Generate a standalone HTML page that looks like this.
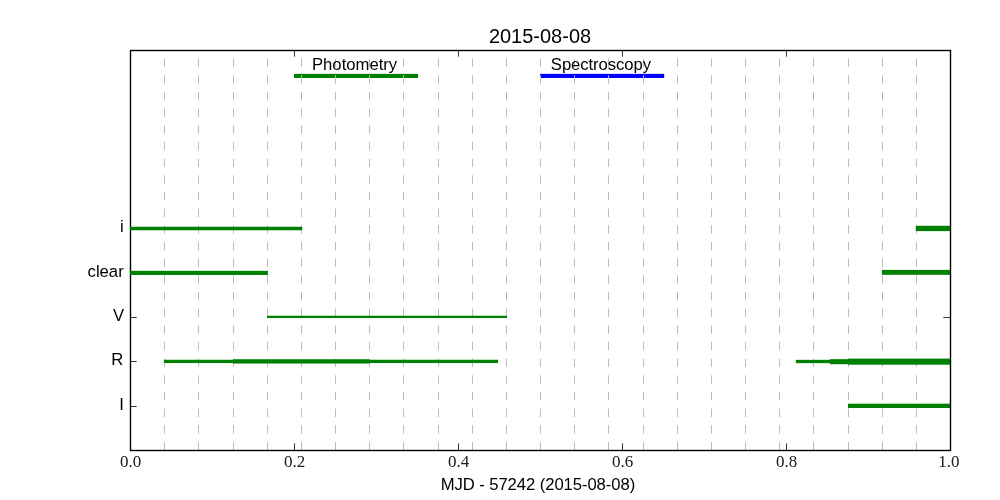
<!DOCTYPE html>
<html><head><meta charset="utf-8"><title>2015-08-08</title>
<style>html,body{margin:0;padding:0;background:#fff;}svg{display:block;}text{font-family:"Liberation Sans",sans-serif;fill:#000;}.s{font-family:"Liberation Serif",serif;fill:#202020;}</style></head><body>
<svg width="1000" height="500" viewBox="0 0 1000 500">
<rect x="0" y="0" width="1000" height="500" fill="#ffffff"/>
<g id="topbars">
<rect x="294" y="73.85" width="124.1" height="4.15" fill="#008000"/>
<rect x="540" y="73.85" width="124.2" height="4.15" fill="#0000ff"/>
</g>
<g id="grid" fill="#bcbcbc">
<rect x="164" y="441.97" width="1" height="8.33"/>
<rect x="164" y="425.30" width="1" height="8.33"/>
<rect x="164" y="408.63" width="1" height="8.33"/>
<rect x="164" y="391.97" width="1" height="8.33"/>
<rect x="164" y="375.30" width="1" height="8.33"/>
<rect x="164" y="358.63" width="1" height="8.33"/>
<rect x="164" y="341.97" width="1" height="8.33"/>
<rect x="164" y="325.30" width="1" height="8.33"/>
<rect x="164" y="308.63" width="1" height="8.33"/>
<rect x="164" y="291.97" width="1" height="8.33"/>
<rect x="164" y="275.30" width="1" height="8.33"/>
<rect x="164" y="258.63" width="1" height="8.33"/>
<rect x="164" y="241.97" width="1" height="8.33"/>
<rect x="164" y="225.30" width="1" height="8.33"/>
<rect x="164" y="208.63" width="1" height="8.33"/>
<rect x="164" y="191.97" width="1" height="8.33"/>
<rect x="164" y="175.30" width="1" height="8.33"/>
<rect x="164" y="158.63" width="1" height="8.33"/>
<rect x="164" y="141.97" width="1" height="8.33"/>
<rect x="164" y="125.30" width="1" height="8.33"/>
<rect x="164" y="108.63" width="1" height="8.33"/>
<rect x="164" y="91.97" width="1" height="8.33"/>
<rect x="164" y="75.30" width="1" height="8.33"/>
<rect x="164" y="58.63" width="1" height="8.33"/>
<rect x="198" y="441.97" width="1" height="8.33"/>
<rect x="198" y="425.30" width="1" height="8.33"/>
<rect x="198" y="408.63" width="1" height="8.33"/>
<rect x="198" y="391.97" width="1" height="8.33"/>
<rect x="198" y="375.30" width="1" height="8.33"/>
<rect x="198" y="358.63" width="1" height="8.33"/>
<rect x="198" y="341.97" width="1" height="8.33"/>
<rect x="198" y="325.30" width="1" height="8.33"/>
<rect x="198" y="308.63" width="1" height="8.33"/>
<rect x="198" y="291.97" width="1" height="8.33"/>
<rect x="198" y="275.30" width="1" height="8.33"/>
<rect x="198" y="258.63" width="1" height="8.33"/>
<rect x="198" y="241.97" width="1" height="8.33"/>
<rect x="198" y="225.30" width="1" height="8.33"/>
<rect x="198" y="208.63" width="1" height="8.33"/>
<rect x="198" y="191.97" width="1" height="8.33"/>
<rect x="198" y="175.30" width="1" height="8.33"/>
<rect x="198" y="158.63" width="1" height="8.33"/>
<rect x="198" y="141.97" width="1" height="8.33"/>
<rect x="198" y="125.30" width="1" height="8.33"/>
<rect x="198" y="108.63" width="1" height="8.33"/>
<rect x="198" y="91.97" width="1" height="8.33"/>
<rect x="198" y="75.30" width="1" height="8.33"/>
<rect x="198" y="58.63" width="1" height="8.33"/>
<rect x="233" y="441.97" width="1" height="8.33"/>
<rect x="233" y="425.30" width="1" height="8.33"/>
<rect x="233" y="408.63" width="1" height="8.33"/>
<rect x="233" y="391.97" width="1" height="8.33"/>
<rect x="233" y="375.30" width="1" height="8.33"/>
<rect x="233" y="358.63" width="1" height="8.33"/>
<rect x="233" y="341.97" width="1" height="8.33"/>
<rect x="233" y="325.30" width="1" height="8.33"/>
<rect x="233" y="308.63" width="1" height="8.33"/>
<rect x="233" y="291.97" width="1" height="8.33"/>
<rect x="233" y="275.30" width="1" height="8.33"/>
<rect x="233" y="258.63" width="1" height="8.33"/>
<rect x="233" y="241.97" width="1" height="8.33"/>
<rect x="233" y="225.30" width="1" height="8.33"/>
<rect x="233" y="208.63" width="1" height="8.33"/>
<rect x="233" y="191.97" width="1" height="8.33"/>
<rect x="233" y="175.30" width="1" height="8.33"/>
<rect x="233" y="158.63" width="1" height="8.33"/>
<rect x="233" y="141.97" width="1" height="8.33"/>
<rect x="233" y="125.30" width="1" height="8.33"/>
<rect x="233" y="108.63" width="1" height="8.33"/>
<rect x="233" y="91.97" width="1" height="8.33"/>
<rect x="233" y="75.30" width="1" height="8.33"/>
<rect x="233" y="58.63" width="1" height="8.33"/>
<rect x="267" y="441.97" width="1" height="8.33"/>
<rect x="267" y="425.30" width="1" height="8.33"/>
<rect x="267" y="408.63" width="1" height="8.33"/>
<rect x="267" y="391.97" width="1" height="8.33"/>
<rect x="267" y="375.30" width="1" height="8.33"/>
<rect x="267" y="358.63" width="1" height="8.33"/>
<rect x="267" y="341.97" width="1" height="8.33"/>
<rect x="267" y="325.30" width="1" height="8.33"/>
<rect x="267" y="308.63" width="1" height="8.33"/>
<rect x="267" y="291.97" width="1" height="8.33"/>
<rect x="267" y="275.30" width="1" height="8.33"/>
<rect x="267" y="258.63" width="1" height="8.33"/>
<rect x="267" y="241.97" width="1" height="8.33"/>
<rect x="267" y="225.30" width="1" height="8.33"/>
<rect x="267" y="208.63" width="1" height="8.33"/>
<rect x="267" y="191.97" width="1" height="8.33"/>
<rect x="267" y="175.30" width="1" height="8.33"/>
<rect x="267" y="158.63" width="1" height="8.33"/>
<rect x="267" y="141.97" width="1" height="8.33"/>
<rect x="267" y="125.30" width="1" height="8.33"/>
<rect x="267" y="108.63" width="1" height="8.33"/>
<rect x="267" y="91.97" width="1" height="8.33"/>
<rect x="267" y="75.30" width="1" height="8.33"/>
<rect x="267" y="58.63" width="1" height="8.33"/>
<rect x="301" y="441.97" width="1" height="8.33"/>
<rect x="301" y="425.30" width="1" height="8.33"/>
<rect x="301" y="408.63" width="1" height="8.33"/>
<rect x="301" y="391.97" width="1" height="8.33"/>
<rect x="301" y="375.30" width="1" height="8.33"/>
<rect x="301" y="358.63" width="1" height="8.33"/>
<rect x="301" y="341.97" width="1" height="8.33"/>
<rect x="301" y="325.30" width="1" height="8.33"/>
<rect x="301" y="308.63" width="1" height="8.33"/>
<rect x="301" y="291.97" width="1" height="8.33"/>
<rect x="301" y="275.30" width="1" height="8.33"/>
<rect x="301" y="258.63" width="1" height="8.33"/>
<rect x="301" y="241.97" width="1" height="8.33"/>
<rect x="301" y="225.30" width="1" height="8.33"/>
<rect x="301" y="208.63" width="1" height="8.33"/>
<rect x="301" y="191.97" width="1" height="8.33"/>
<rect x="301" y="175.30" width="1" height="8.33"/>
<rect x="301" y="158.63" width="1" height="8.33"/>
<rect x="301" y="141.97" width="1" height="8.33"/>
<rect x="301" y="125.30" width="1" height="8.33"/>
<rect x="301" y="108.63" width="1" height="8.33"/>
<rect x="301" y="91.97" width="1" height="8.33"/>
<rect x="301" y="75.30" width="1" height="8.33"/>
<rect x="301" y="58.63" width="1" height="8.33"/>
<rect x="335" y="441.97" width="1" height="8.33"/>
<rect x="335" y="425.30" width="1" height="8.33"/>
<rect x="335" y="408.63" width="1" height="8.33"/>
<rect x="335" y="391.97" width="1" height="8.33"/>
<rect x="335" y="375.30" width="1" height="8.33"/>
<rect x="335" y="358.63" width="1" height="8.33"/>
<rect x="335" y="341.97" width="1" height="8.33"/>
<rect x="335" y="325.30" width="1" height="8.33"/>
<rect x="335" y="308.63" width="1" height="8.33"/>
<rect x="335" y="291.97" width="1" height="8.33"/>
<rect x="335" y="275.30" width="1" height="8.33"/>
<rect x="335" y="258.63" width="1" height="8.33"/>
<rect x="335" y="241.97" width="1" height="8.33"/>
<rect x="335" y="225.30" width="1" height="8.33"/>
<rect x="335" y="208.63" width="1" height="8.33"/>
<rect x="335" y="191.97" width="1" height="8.33"/>
<rect x="335" y="175.30" width="1" height="8.33"/>
<rect x="335" y="158.63" width="1" height="8.33"/>
<rect x="335" y="141.97" width="1" height="8.33"/>
<rect x="335" y="125.30" width="1" height="8.33"/>
<rect x="335" y="108.63" width="1" height="8.33"/>
<rect x="335" y="91.97" width="1" height="8.33"/>
<rect x="335" y="75.30" width="1" height="8.33"/>
<rect x="335" y="58.63" width="1" height="8.33"/>
<rect x="369" y="441.97" width="1" height="8.33"/>
<rect x="369" y="425.30" width="1" height="8.33"/>
<rect x="369" y="408.63" width="1" height="8.33"/>
<rect x="369" y="391.97" width="1" height="8.33"/>
<rect x="369" y="375.30" width="1" height="8.33"/>
<rect x="369" y="358.63" width="1" height="8.33"/>
<rect x="369" y="341.97" width="1" height="8.33"/>
<rect x="369" y="325.30" width="1" height="8.33"/>
<rect x="369" y="308.63" width="1" height="8.33"/>
<rect x="369" y="291.97" width="1" height="8.33"/>
<rect x="369" y="275.30" width="1" height="8.33"/>
<rect x="369" y="258.63" width="1" height="8.33"/>
<rect x="369" y="241.97" width="1" height="8.33"/>
<rect x="369" y="225.30" width="1" height="8.33"/>
<rect x="369" y="208.63" width="1" height="8.33"/>
<rect x="369" y="191.97" width="1" height="8.33"/>
<rect x="369" y="175.30" width="1" height="8.33"/>
<rect x="369" y="158.63" width="1" height="8.33"/>
<rect x="369" y="141.97" width="1" height="8.33"/>
<rect x="369" y="125.30" width="1" height="8.33"/>
<rect x="369" y="108.63" width="1" height="8.33"/>
<rect x="369" y="91.97" width="1" height="8.33"/>
<rect x="369" y="75.30" width="1" height="8.33"/>
<rect x="369" y="58.63" width="1" height="8.33"/>
<rect x="403" y="441.97" width="1" height="8.33"/>
<rect x="403" y="425.30" width="1" height="8.33"/>
<rect x="403" y="408.63" width="1" height="8.33"/>
<rect x="403" y="391.97" width="1" height="8.33"/>
<rect x="403" y="375.30" width="1" height="8.33"/>
<rect x="403" y="358.63" width="1" height="8.33"/>
<rect x="403" y="341.97" width="1" height="8.33"/>
<rect x="403" y="325.30" width="1" height="8.33"/>
<rect x="403" y="308.63" width="1" height="8.33"/>
<rect x="403" y="291.97" width="1" height="8.33"/>
<rect x="403" y="275.30" width="1" height="8.33"/>
<rect x="403" y="258.63" width="1" height="8.33"/>
<rect x="403" y="241.97" width="1" height="8.33"/>
<rect x="403" y="225.30" width="1" height="8.33"/>
<rect x="403" y="208.63" width="1" height="8.33"/>
<rect x="403" y="191.97" width="1" height="8.33"/>
<rect x="403" y="175.30" width="1" height="8.33"/>
<rect x="403" y="158.63" width="1" height="8.33"/>
<rect x="403" y="141.97" width="1" height="8.33"/>
<rect x="403" y="125.30" width="1" height="8.33"/>
<rect x="403" y="108.63" width="1" height="8.33"/>
<rect x="403" y="91.97" width="1" height="8.33"/>
<rect x="403" y="75.30" width="1" height="8.33"/>
<rect x="403" y="58.63" width="1" height="8.33"/>
<rect x="438" y="441.97" width="1" height="8.33"/>
<rect x="438" y="425.30" width="1" height="8.33"/>
<rect x="438" y="408.63" width="1" height="8.33"/>
<rect x="438" y="391.97" width="1" height="8.33"/>
<rect x="438" y="375.30" width="1" height="8.33"/>
<rect x="438" y="358.63" width="1" height="8.33"/>
<rect x="438" y="341.97" width="1" height="8.33"/>
<rect x="438" y="325.30" width="1" height="8.33"/>
<rect x="438" y="308.63" width="1" height="8.33"/>
<rect x="438" y="291.97" width="1" height="8.33"/>
<rect x="438" y="275.30" width="1" height="8.33"/>
<rect x="438" y="258.63" width="1" height="8.33"/>
<rect x="438" y="241.97" width="1" height="8.33"/>
<rect x="438" y="225.30" width="1" height="8.33"/>
<rect x="438" y="208.63" width="1" height="8.33"/>
<rect x="438" y="191.97" width="1" height="8.33"/>
<rect x="438" y="175.30" width="1" height="8.33"/>
<rect x="438" y="158.63" width="1" height="8.33"/>
<rect x="438" y="141.97" width="1" height="8.33"/>
<rect x="438" y="125.30" width="1" height="8.33"/>
<rect x="438" y="108.63" width="1" height="8.33"/>
<rect x="438" y="91.97" width="1" height="8.33"/>
<rect x="438" y="75.30" width="1" height="8.33"/>
<rect x="438" y="58.63" width="1" height="8.33"/>
<rect x="472" y="441.97" width="1" height="8.33"/>
<rect x="472" y="425.30" width="1" height="8.33"/>
<rect x="472" y="408.63" width="1" height="8.33"/>
<rect x="472" y="391.97" width="1" height="8.33"/>
<rect x="472" y="375.30" width="1" height="8.33"/>
<rect x="472" y="358.63" width="1" height="8.33"/>
<rect x="472" y="341.97" width="1" height="8.33"/>
<rect x="472" y="325.30" width="1" height="8.33"/>
<rect x="472" y="308.63" width="1" height="8.33"/>
<rect x="472" y="291.97" width="1" height="8.33"/>
<rect x="472" y="275.30" width="1" height="8.33"/>
<rect x="472" y="258.63" width="1" height="8.33"/>
<rect x="472" y="241.97" width="1" height="8.33"/>
<rect x="472" y="225.30" width="1" height="8.33"/>
<rect x="472" y="208.63" width="1" height="8.33"/>
<rect x="472" y="191.97" width="1" height="8.33"/>
<rect x="472" y="175.30" width="1" height="8.33"/>
<rect x="472" y="158.63" width="1" height="8.33"/>
<rect x="472" y="141.97" width="1" height="8.33"/>
<rect x="472" y="125.30" width="1" height="8.33"/>
<rect x="472" y="108.63" width="1" height="8.33"/>
<rect x="472" y="91.97" width="1" height="8.33"/>
<rect x="472" y="75.30" width="1" height="8.33"/>
<rect x="472" y="58.63" width="1" height="8.33"/>
<rect x="506" y="441.97" width="1" height="8.33"/>
<rect x="506" y="425.30" width="1" height="8.33"/>
<rect x="506" y="408.63" width="1" height="8.33"/>
<rect x="506" y="391.97" width="1" height="8.33"/>
<rect x="506" y="375.30" width="1" height="8.33"/>
<rect x="506" y="358.63" width="1" height="8.33"/>
<rect x="506" y="341.97" width="1" height="8.33"/>
<rect x="506" y="325.30" width="1" height="8.33"/>
<rect x="506" y="308.63" width="1" height="8.33"/>
<rect x="506" y="291.97" width="1" height="8.33"/>
<rect x="506" y="275.30" width="1" height="8.33"/>
<rect x="506" y="258.63" width="1" height="8.33"/>
<rect x="506" y="241.97" width="1" height="8.33"/>
<rect x="506" y="225.30" width="1" height="8.33"/>
<rect x="506" y="208.63" width="1" height="8.33"/>
<rect x="506" y="191.97" width="1" height="8.33"/>
<rect x="506" y="175.30" width="1" height="8.33"/>
<rect x="506" y="158.63" width="1" height="8.33"/>
<rect x="506" y="141.97" width="1" height="8.33"/>
<rect x="506" y="125.30" width="1" height="8.33"/>
<rect x="506" y="108.63" width="1" height="8.33"/>
<rect x="506" y="91.97" width="1" height="8.33"/>
<rect x="506" y="75.30" width="1" height="8.33"/>
<rect x="506" y="58.63" width="1" height="8.33"/>
<rect x="540" y="441.97" width="1" height="8.33"/>
<rect x="540" y="425.30" width="1" height="8.33"/>
<rect x="540" y="408.63" width="1" height="8.33"/>
<rect x="540" y="391.97" width="1" height="8.33"/>
<rect x="540" y="375.30" width="1" height="8.33"/>
<rect x="540" y="358.63" width="1" height="8.33"/>
<rect x="540" y="341.97" width="1" height="8.33"/>
<rect x="540" y="325.30" width="1" height="8.33"/>
<rect x="540" y="308.63" width="1" height="8.33"/>
<rect x="540" y="291.97" width="1" height="8.33"/>
<rect x="540" y="275.30" width="1" height="8.33"/>
<rect x="540" y="258.63" width="1" height="8.33"/>
<rect x="540" y="241.97" width="1" height="8.33"/>
<rect x="540" y="225.30" width="1" height="8.33"/>
<rect x="540" y="208.63" width="1" height="8.33"/>
<rect x="540" y="191.97" width="1" height="8.33"/>
<rect x="540" y="175.30" width="1" height="8.33"/>
<rect x="540" y="158.63" width="1" height="8.33"/>
<rect x="540" y="141.97" width="1" height="8.33"/>
<rect x="540" y="125.30" width="1" height="8.33"/>
<rect x="540" y="108.63" width="1" height="8.33"/>
<rect x="540" y="91.97" width="1" height="8.33"/>
<rect x="540" y="75.30" width="1" height="8.33"/>
<rect x="540" y="58.63" width="1" height="8.33"/>
<rect x="574" y="441.97" width="1" height="8.33"/>
<rect x="574" y="425.30" width="1" height="8.33"/>
<rect x="574" y="408.63" width="1" height="8.33"/>
<rect x="574" y="391.97" width="1" height="8.33"/>
<rect x="574" y="375.30" width="1" height="8.33"/>
<rect x="574" y="358.63" width="1" height="8.33"/>
<rect x="574" y="341.97" width="1" height="8.33"/>
<rect x="574" y="325.30" width="1" height="8.33"/>
<rect x="574" y="308.63" width="1" height="8.33"/>
<rect x="574" y="291.97" width="1" height="8.33"/>
<rect x="574" y="275.30" width="1" height="8.33"/>
<rect x="574" y="258.63" width="1" height="8.33"/>
<rect x="574" y="241.97" width="1" height="8.33"/>
<rect x="574" y="225.30" width="1" height="8.33"/>
<rect x="574" y="208.63" width="1" height="8.33"/>
<rect x="574" y="191.97" width="1" height="8.33"/>
<rect x="574" y="175.30" width="1" height="8.33"/>
<rect x="574" y="158.63" width="1" height="8.33"/>
<rect x="574" y="141.97" width="1" height="8.33"/>
<rect x="574" y="125.30" width="1" height="8.33"/>
<rect x="574" y="108.63" width="1" height="8.33"/>
<rect x="574" y="91.97" width="1" height="8.33"/>
<rect x="574" y="75.30" width="1" height="8.33"/>
<rect x="574" y="58.63" width="1" height="8.33"/>
<rect x="608" y="441.97" width="1" height="8.33"/>
<rect x="608" y="425.30" width="1" height="8.33"/>
<rect x="608" y="408.63" width="1" height="8.33"/>
<rect x="608" y="391.97" width="1" height="8.33"/>
<rect x="608" y="375.30" width="1" height="8.33"/>
<rect x="608" y="358.63" width="1" height="8.33"/>
<rect x="608" y="341.97" width="1" height="8.33"/>
<rect x="608" y="325.30" width="1" height="8.33"/>
<rect x="608" y="308.63" width="1" height="8.33"/>
<rect x="608" y="291.97" width="1" height="8.33"/>
<rect x="608" y="275.30" width="1" height="8.33"/>
<rect x="608" y="258.63" width="1" height="8.33"/>
<rect x="608" y="241.97" width="1" height="8.33"/>
<rect x="608" y="225.30" width="1" height="8.33"/>
<rect x="608" y="208.63" width="1" height="8.33"/>
<rect x="608" y="191.97" width="1" height="8.33"/>
<rect x="608" y="175.30" width="1" height="8.33"/>
<rect x="608" y="158.63" width="1" height="8.33"/>
<rect x="608" y="141.97" width="1" height="8.33"/>
<rect x="608" y="125.30" width="1" height="8.33"/>
<rect x="608" y="108.63" width="1" height="8.33"/>
<rect x="608" y="91.97" width="1" height="8.33"/>
<rect x="608" y="75.30" width="1" height="8.33"/>
<rect x="608" y="58.63" width="1" height="8.33"/>
<rect x="643" y="441.97" width="1" height="8.33"/>
<rect x="643" y="425.30" width="1" height="8.33"/>
<rect x="643" y="408.63" width="1" height="8.33"/>
<rect x="643" y="391.97" width="1" height="8.33"/>
<rect x="643" y="375.30" width="1" height="8.33"/>
<rect x="643" y="358.63" width="1" height="8.33"/>
<rect x="643" y="341.97" width="1" height="8.33"/>
<rect x="643" y="325.30" width="1" height="8.33"/>
<rect x="643" y="308.63" width="1" height="8.33"/>
<rect x="643" y="291.97" width="1" height="8.33"/>
<rect x="643" y="275.30" width="1" height="8.33"/>
<rect x="643" y="258.63" width="1" height="8.33"/>
<rect x="643" y="241.97" width="1" height="8.33"/>
<rect x="643" y="225.30" width="1" height="8.33"/>
<rect x="643" y="208.63" width="1" height="8.33"/>
<rect x="643" y="191.97" width="1" height="8.33"/>
<rect x="643" y="175.30" width="1" height="8.33"/>
<rect x="643" y="158.63" width="1" height="8.33"/>
<rect x="643" y="141.97" width="1" height="8.33"/>
<rect x="643" y="125.30" width="1" height="8.33"/>
<rect x="643" y="108.63" width="1" height="8.33"/>
<rect x="643" y="91.97" width="1" height="8.33"/>
<rect x="643" y="75.30" width="1" height="8.33"/>
<rect x="643" y="58.63" width="1" height="8.33"/>
<rect x="677" y="441.97" width="1" height="8.33"/>
<rect x="677" y="425.30" width="1" height="8.33"/>
<rect x="677" y="408.63" width="1" height="8.33"/>
<rect x="677" y="391.97" width="1" height="8.33"/>
<rect x="677" y="375.30" width="1" height="8.33"/>
<rect x="677" y="358.63" width="1" height="8.33"/>
<rect x="677" y="341.97" width="1" height="8.33"/>
<rect x="677" y="325.30" width="1" height="8.33"/>
<rect x="677" y="308.63" width="1" height="8.33"/>
<rect x="677" y="291.97" width="1" height="8.33"/>
<rect x="677" y="275.30" width="1" height="8.33"/>
<rect x="677" y="258.63" width="1" height="8.33"/>
<rect x="677" y="241.97" width="1" height="8.33"/>
<rect x="677" y="225.30" width="1" height="8.33"/>
<rect x="677" y="208.63" width="1" height="8.33"/>
<rect x="677" y="191.97" width="1" height="8.33"/>
<rect x="677" y="175.30" width="1" height="8.33"/>
<rect x="677" y="158.63" width="1" height="8.33"/>
<rect x="677" y="141.97" width="1" height="8.33"/>
<rect x="677" y="125.30" width="1" height="8.33"/>
<rect x="677" y="108.63" width="1" height="8.33"/>
<rect x="677" y="91.97" width="1" height="8.33"/>
<rect x="677" y="75.30" width="1" height="8.33"/>
<rect x="677" y="58.63" width="1" height="8.33"/>
<rect x="711" y="441.97" width="1" height="8.33"/>
<rect x="711" y="425.30" width="1" height="8.33"/>
<rect x="711" y="408.63" width="1" height="8.33"/>
<rect x="711" y="391.97" width="1" height="8.33"/>
<rect x="711" y="375.30" width="1" height="8.33"/>
<rect x="711" y="358.63" width="1" height="8.33"/>
<rect x="711" y="341.97" width="1" height="8.33"/>
<rect x="711" y="325.30" width="1" height="8.33"/>
<rect x="711" y="308.63" width="1" height="8.33"/>
<rect x="711" y="291.97" width="1" height="8.33"/>
<rect x="711" y="275.30" width="1" height="8.33"/>
<rect x="711" y="258.63" width="1" height="8.33"/>
<rect x="711" y="241.97" width="1" height="8.33"/>
<rect x="711" y="225.30" width="1" height="8.33"/>
<rect x="711" y="208.63" width="1" height="8.33"/>
<rect x="711" y="191.97" width="1" height="8.33"/>
<rect x="711" y="175.30" width="1" height="8.33"/>
<rect x="711" y="158.63" width="1" height="8.33"/>
<rect x="711" y="141.97" width="1" height="8.33"/>
<rect x="711" y="125.30" width="1" height="8.33"/>
<rect x="711" y="108.63" width="1" height="8.33"/>
<rect x="711" y="91.97" width="1" height="8.33"/>
<rect x="711" y="75.30" width="1" height="8.33"/>
<rect x="711" y="58.63" width="1" height="8.33"/>
<rect x="745" y="441.97" width="1" height="8.33"/>
<rect x="745" y="425.30" width="1" height="8.33"/>
<rect x="745" y="408.63" width="1" height="8.33"/>
<rect x="745" y="391.97" width="1" height="8.33"/>
<rect x="745" y="375.30" width="1" height="8.33"/>
<rect x="745" y="358.63" width="1" height="8.33"/>
<rect x="745" y="341.97" width="1" height="8.33"/>
<rect x="745" y="325.30" width="1" height="8.33"/>
<rect x="745" y="308.63" width="1" height="8.33"/>
<rect x="745" y="291.97" width="1" height="8.33"/>
<rect x="745" y="275.30" width="1" height="8.33"/>
<rect x="745" y="258.63" width="1" height="8.33"/>
<rect x="745" y="241.97" width="1" height="8.33"/>
<rect x="745" y="225.30" width="1" height="8.33"/>
<rect x="745" y="208.63" width="1" height="8.33"/>
<rect x="745" y="191.97" width="1" height="8.33"/>
<rect x="745" y="175.30" width="1" height="8.33"/>
<rect x="745" y="158.63" width="1" height="8.33"/>
<rect x="745" y="141.97" width="1" height="8.33"/>
<rect x="745" y="125.30" width="1" height="8.33"/>
<rect x="745" y="108.63" width="1" height="8.33"/>
<rect x="745" y="91.97" width="1" height="8.33"/>
<rect x="745" y="75.30" width="1" height="8.33"/>
<rect x="745" y="58.63" width="1" height="8.33"/>
<rect x="779" y="441.97" width="1" height="8.33"/>
<rect x="779" y="425.30" width="1" height="8.33"/>
<rect x="779" y="408.63" width="1" height="8.33"/>
<rect x="779" y="391.97" width="1" height="8.33"/>
<rect x="779" y="375.30" width="1" height="8.33"/>
<rect x="779" y="358.63" width="1" height="8.33"/>
<rect x="779" y="341.97" width="1" height="8.33"/>
<rect x="779" y="325.30" width="1" height="8.33"/>
<rect x="779" y="308.63" width="1" height="8.33"/>
<rect x="779" y="291.97" width="1" height="8.33"/>
<rect x="779" y="275.30" width="1" height="8.33"/>
<rect x="779" y="258.63" width="1" height="8.33"/>
<rect x="779" y="241.97" width="1" height="8.33"/>
<rect x="779" y="225.30" width="1" height="8.33"/>
<rect x="779" y="208.63" width="1" height="8.33"/>
<rect x="779" y="191.97" width="1" height="8.33"/>
<rect x="779" y="175.30" width="1" height="8.33"/>
<rect x="779" y="158.63" width="1" height="8.33"/>
<rect x="779" y="141.97" width="1" height="8.33"/>
<rect x="779" y="125.30" width="1" height="8.33"/>
<rect x="779" y="108.63" width="1" height="8.33"/>
<rect x="779" y="91.97" width="1" height="8.33"/>
<rect x="779" y="75.30" width="1" height="8.33"/>
<rect x="779" y="58.63" width="1" height="8.33"/>
<rect x="813" y="441.97" width="1" height="8.33"/>
<rect x="813" y="425.30" width="1" height="8.33"/>
<rect x="813" y="408.63" width="1" height="8.33"/>
<rect x="813" y="391.97" width="1" height="8.33"/>
<rect x="813" y="375.30" width="1" height="8.33"/>
<rect x="813" y="358.63" width="1" height="8.33"/>
<rect x="813" y="341.97" width="1" height="8.33"/>
<rect x="813" y="325.30" width="1" height="8.33"/>
<rect x="813" y="308.63" width="1" height="8.33"/>
<rect x="813" y="291.97" width="1" height="8.33"/>
<rect x="813" y="275.30" width="1" height="8.33"/>
<rect x="813" y="258.63" width="1" height="8.33"/>
<rect x="813" y="241.97" width="1" height="8.33"/>
<rect x="813" y="225.30" width="1" height="8.33"/>
<rect x="813" y="208.63" width="1" height="8.33"/>
<rect x="813" y="191.97" width="1" height="8.33"/>
<rect x="813" y="175.30" width="1" height="8.33"/>
<rect x="813" y="158.63" width="1" height="8.33"/>
<rect x="813" y="141.97" width="1" height="8.33"/>
<rect x="813" y="125.30" width="1" height="8.33"/>
<rect x="813" y="108.63" width="1" height="8.33"/>
<rect x="813" y="91.97" width="1" height="8.33"/>
<rect x="813" y="75.30" width="1" height="8.33"/>
<rect x="813" y="58.63" width="1" height="8.33"/>
<rect x="848" y="441.97" width="1" height="8.33"/>
<rect x="848" y="425.30" width="1" height="8.33"/>
<rect x="848" y="408.63" width="1" height="8.33"/>
<rect x="848" y="391.97" width="1" height="8.33"/>
<rect x="848" y="375.30" width="1" height="8.33"/>
<rect x="848" y="358.63" width="1" height="8.33"/>
<rect x="848" y="341.97" width="1" height="8.33"/>
<rect x="848" y="325.30" width="1" height="8.33"/>
<rect x="848" y="308.63" width="1" height="8.33"/>
<rect x="848" y="291.97" width="1" height="8.33"/>
<rect x="848" y="275.30" width="1" height="8.33"/>
<rect x="848" y="258.63" width="1" height="8.33"/>
<rect x="848" y="241.97" width="1" height="8.33"/>
<rect x="848" y="225.30" width="1" height="8.33"/>
<rect x="848" y="208.63" width="1" height="8.33"/>
<rect x="848" y="191.97" width="1" height="8.33"/>
<rect x="848" y="175.30" width="1" height="8.33"/>
<rect x="848" y="158.63" width="1" height="8.33"/>
<rect x="848" y="141.97" width="1" height="8.33"/>
<rect x="848" y="125.30" width="1" height="8.33"/>
<rect x="848" y="108.63" width="1" height="8.33"/>
<rect x="848" y="91.97" width="1" height="8.33"/>
<rect x="848" y="75.30" width="1" height="8.33"/>
<rect x="848" y="58.63" width="1" height="8.33"/>
<rect x="882" y="441.97" width="1" height="8.33"/>
<rect x="882" y="425.30" width="1" height="8.33"/>
<rect x="882" y="408.63" width="1" height="8.33"/>
<rect x="882" y="391.97" width="1" height="8.33"/>
<rect x="882" y="375.30" width="1" height="8.33"/>
<rect x="882" y="358.63" width="1" height="8.33"/>
<rect x="882" y="341.97" width="1" height="8.33"/>
<rect x="882" y="325.30" width="1" height="8.33"/>
<rect x="882" y="308.63" width="1" height="8.33"/>
<rect x="882" y="291.97" width="1" height="8.33"/>
<rect x="882" y="275.30" width="1" height="8.33"/>
<rect x="882" y="258.63" width="1" height="8.33"/>
<rect x="882" y="241.97" width="1" height="8.33"/>
<rect x="882" y="225.30" width="1" height="8.33"/>
<rect x="882" y="208.63" width="1" height="8.33"/>
<rect x="882" y="191.97" width="1" height="8.33"/>
<rect x="882" y="175.30" width="1" height="8.33"/>
<rect x="882" y="158.63" width="1" height="8.33"/>
<rect x="882" y="141.97" width="1" height="8.33"/>
<rect x="882" y="125.30" width="1" height="8.33"/>
<rect x="882" y="108.63" width="1" height="8.33"/>
<rect x="882" y="91.97" width="1" height="8.33"/>
<rect x="882" y="75.30" width="1" height="8.33"/>
<rect x="882" y="58.63" width="1" height="8.33"/>
<rect x="916" y="441.97" width="1" height="8.33"/>
<rect x="916" y="425.30" width="1" height="8.33"/>
<rect x="916" y="408.63" width="1" height="8.33"/>
<rect x="916" y="391.97" width="1" height="8.33"/>
<rect x="916" y="375.30" width="1" height="8.33"/>
<rect x="916" y="358.63" width="1" height="8.33"/>
<rect x="916" y="341.97" width="1" height="8.33"/>
<rect x="916" y="325.30" width="1" height="8.33"/>
<rect x="916" y="308.63" width="1" height="8.33"/>
<rect x="916" y="291.97" width="1" height="8.33"/>
<rect x="916" y="275.30" width="1" height="8.33"/>
<rect x="916" y="258.63" width="1" height="8.33"/>
<rect x="916" y="241.97" width="1" height="8.33"/>
<rect x="916" y="225.30" width="1" height="8.33"/>
<rect x="916" y="208.63" width="1" height="8.33"/>
<rect x="916" y="191.97" width="1" height="8.33"/>
<rect x="916" y="175.30" width="1" height="8.33"/>
<rect x="916" y="158.63" width="1" height="8.33"/>
<rect x="916" y="141.97" width="1" height="8.33"/>
<rect x="916" y="125.30" width="1" height="8.33"/>
<rect x="916" y="108.63" width="1" height="8.33"/>
<rect x="916" y="91.97" width="1" height="8.33"/>
<rect x="916" y="75.30" width="1" height="8.33"/>
<rect x="916" y="58.63" width="1" height="8.33"/>
</g>
<g id="ticks" stroke="#000" stroke-width="1" stroke-opacity="0.78">
<line x1="130.5" y1="450.00" x2="130.5" y2="443.30"/>
<line x1="130.5" y1="50.00" x2="130.5" y2="56.70"/>
<line x1="294.5" y1="450.00" x2="294.5" y2="443.30"/>
<line x1="294.5" y1="50.00" x2="294.5" y2="56.70"/>
<line x1="458.5" y1="450.00" x2="458.5" y2="443.30"/>
<line x1="458.5" y1="50.00" x2="458.5" y2="56.70"/>
<line x1="622.5" y1="450.00" x2="622.5" y2="443.30"/>
<line x1="622.5" y1="50.00" x2="622.5" y2="56.70"/>
<line x1="786.5" y1="450.00" x2="786.5" y2="443.30"/>
<line x1="786.5" y1="50.00" x2="786.5" y2="56.70"/>
<line x1="950.5" y1="450.00" x2="950.5" y2="443.30"/>
<line x1="950.5" y1="50.00" x2="950.5" y2="56.70"/>
<line x1="130.00" y1="406.5" x2="136.70" y2="406.5"/>
<line x1="950.00" y1="406.5" x2="943.30" y2="406.5"/>
<line x1="130.00" y1="361.5" x2="136.70" y2="361.5"/>
<line x1="950.00" y1="361.5" x2="943.30" y2="361.5"/>
<line x1="130.00" y1="317.5" x2="136.70" y2="317.5"/>
<line x1="950.00" y1="317.5" x2="943.30" y2="317.5"/>
<line x1="130.00" y1="272.5" x2="136.70" y2="272.5"/>
<line x1="950.00" y1="272.5" x2="943.30" y2="272.5"/>
<line x1="130.00" y1="228.5" x2="136.70" y2="228.5"/>
<line x1="950.00" y1="228.5" x2="943.30" y2="228.5"/>
</g>
<rect x="130.5" y="50.5" width="820" height="400" fill="none" stroke="#000" stroke-width="1.39"/>
<g id="bars" fill="#008000">
<rect x="129.90" y="226.75" width="172.30" height="3.50"/>
<rect x="915.80" y="225.80" width="34.20" height="5.30"/>
<rect x="129.90" y="270.82" width="138.00" height="4.15"/>
<rect x="881.90" y="269.90" width="68.10" height="4.90"/>
<rect x="267.00" y="315.73" width="240.05" height="2.25"/>
<rect x="163.90" y="359.75" width="334.20" height="3.30"/>
<rect x="232.90" y="359.30" width="136.50" height="4.20"/>
<rect x="795.80" y="359.85" width="154.20" height="3.30"/>
<rect x="829.80" y="359.20" width="120.20" height="5.00"/>
<rect x="848.00" y="358.60" width="102.00" height="6.00"/>
<rect x="848.00" y="403.70" width="102.00" height="4.30"/>
</g>
<text transform="translate(540,42.8) scale(1,1.045)" font-size="20" text-anchor="middle">2015-08-08</text>
<text x="354.6" y="69.8" font-size="16.67" text-anchor="middle">Photometry</text>
<text x="600.9" y="69.8" font-size="16.67" text-anchor="middle" letter-spacing="-0.07">Spectroscopy</text>
<text x="124.0" y="410.4" font-size="16.67" text-anchor="end">I</text>
<text x="123.2" y="365.4" font-size="16.67" text-anchor="end">R</text>
<text x="124.2" y="321.4" font-size="16.67" text-anchor="end">V</text>
<text x="123.7" y="277.1" font-size="16.67" text-anchor="end">clear</text>
<text x="123.7" y="232.4" font-size="16.67" text-anchor="end">i</text>
<text class="s" x="130.5" y="466.7" font-size="17.00" fill="#202020" text-anchor="middle">0.0</text>
<text class="s" x="294.5" y="466.7" font-size="17.00" fill="#202020" text-anchor="middle">0.2</text>
<text class="s" x="458.5" y="466.7" font-size="17.00" fill="#202020" text-anchor="middle">0.4</text>
<text class="s" x="622.5" y="466.7" font-size="17.00" fill="#202020" text-anchor="middle">0.6</text>
<text class="s" x="786.5" y="466.7" font-size="17.00" fill="#202020" text-anchor="middle">0.8</text>
<text class="s" x="948.9" y="466.7" font-size="17.00" fill="#202020" text-anchor="middle">1.0</text>
<text x="537.9" y="489.6" font-size="16.67" text-anchor="middle" letter-spacing="-0.075">MJD - 57242 (2015-08-08)</text>
</svg></body></html>
